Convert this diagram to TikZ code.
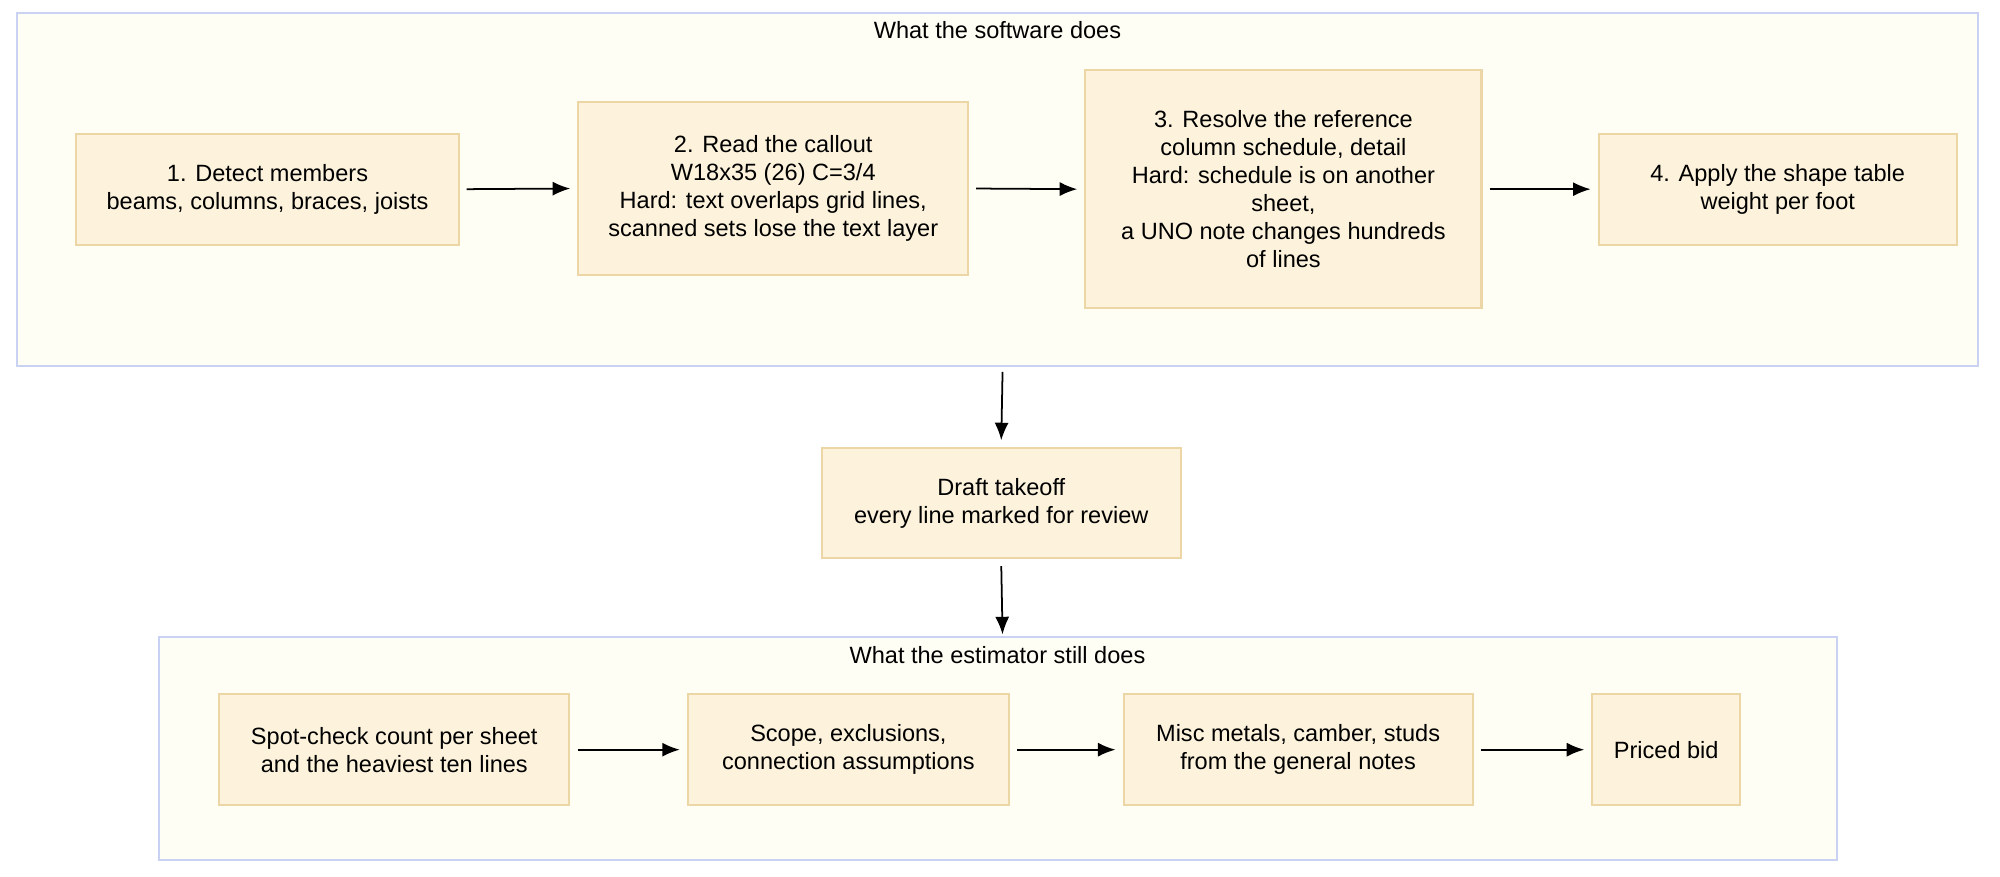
\documentclass[tikz,border=0pt]{standalone}
\usepackage{fontspec}
\setmainfont{Liberation Sans}
\usetikzlibrary{positioning,arrows.meta}
\definecolor{stepfill}{HTML}{FDF3DC}
\definecolor{stepline}{HTML}{EDD6A6}
\definecolor{groupfill}{HTML}{FFFEF4}
\definecolor{groupline}{HTML}{C9D2F2}

\begin{document}
\begin{tikzpicture}[
  x=0.01274cm, y=-0.01274cm,
  font=\fontsize{6.7}{8}\selectfont,
  group/.style={draw=groupline, fill=groupfill, line width=0.6pt},
  stepbox/.style={draw=stepline, fill=stepfill, line width=0.6pt, align=center, inner sep=0pt},
  flow/.style={-{Latex[length=5pt,width=4pt]}, black, line width=0.5pt}
  ]
  \useasboundingbox (0,0) rectangle (1570,688);

  % upper group
  \draw[group] (13,10) rectangle (1553,287);
  \node (TopTitle) at (783,24) {What the software does};
  \node[stepbox, minimum width=300*0.01274cm, minimum height=87*0.01274cm] (Detect) at (210,148.5)
    {1. Detect members\\beams, columns, braces, joists};
  \node[stepbox, minimum width=306*0.01274cm, minimum height=136*0.01274cm] (Callout) at (607,148)
    {2. Read the callout\\W18x35 (26) C=3/4\\Hard: text overlaps grid lines,\\scanned sets lose the text layer};
  \node[stepbox, minimum width=311*0.01274cm, minimum height=187*0.01274cm] (Resolve) at (1007.5,148.5)
    {3. Resolve the reference\\column schedule, detail\\Hard: schedule is on another\\sheet,\\a UNO note changes hundreds\\of lines};
  \node[stepbox, minimum width=281*0.01274cm, minimum height=87*0.01274cm] (Shape) at (1395.5,148.5)
    {4. Apply the shape table\\weight per foot};
  \coordinate (TopBottom) at (787,292);

  % draft
  \node[stepbox, minimum width=282*0.01274cm, minimum height=86*0.01274cm] (Draft) at (786,395)
    {Draft takeoff\\every line marked for review};

  % lower group
  \draw[group] (125,500) rectangle (1442,675);
  \coordinate (LowTop) at (787,498);
  \node (LowTitle) at (783,514) {What the estimator still does};
  \node[stepbox, minimum width=275*0.01274cm, minimum height=87*0.01274cm] (Spot) at (309.5,588.5)
    {Spot-check count per sheet\\and the heaviest ten lines};
  \node[stepbox, minimum width=252*0.01274cm, minimum height=87*0.01274cm] (Scope) at (666,588.5)
    {Scope, exclusions,\\connection assumptions};
  \node[stepbox, minimum width=274*0.01274cm, minimum height=87*0.01274cm] (Misc) at (1019,588.5)
    {Misc metals, camber, studs\\from the general notes};
  \node[stepbox, minimum width=116*0.01274cm, minimum height=87*0.01274cm] (Bid) at (1308,588.5)
    {Priced bid};

  \draw[flow] ([xshift=2pt]Detect.east) -- ([xshift=-2pt]Callout.east -| Callout.west);
  \draw[flow] ([xshift=2pt]Callout.east) -- ([xshift=-2pt]Resolve.west);
  \draw[flow] ([xshift=2pt]Resolve.east) -- ([xshift=-2pt]Shape.west);
  \draw[flow] (TopBottom) -- ([yshift=2pt]Draft.north);
  \draw[flow] ([yshift=-2pt]Draft.south) -- (LowTop);
  \draw[flow] ([xshift=2pt]Spot.east) -- ([xshift=-2pt]Scope.west);
  \draw[flow] ([xshift=2pt]Scope.east) -- ([xshift=-2pt]Misc.west);
  \draw[flow] ([xshift=2pt]Misc.east) -- ([xshift=-2pt]Bid.west);
\end{tikzpicture}
\end{document}
